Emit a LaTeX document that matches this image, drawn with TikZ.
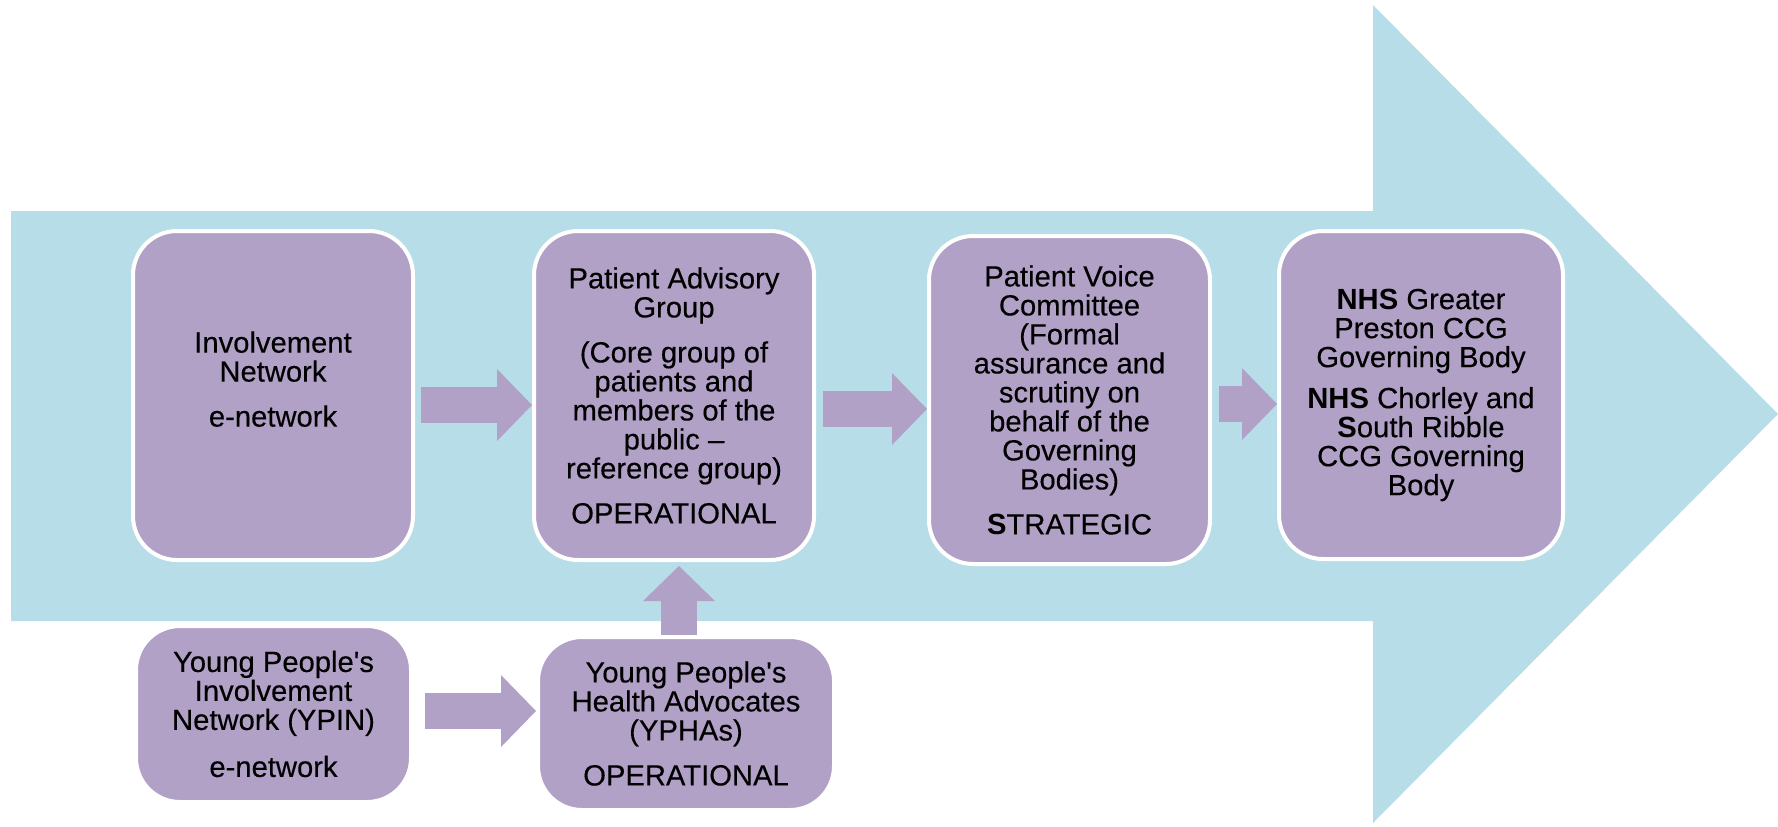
\documentclass[tikz,border=0pt]{standalone}
\usepackage{fontspec}
\setmainfont{Liberation Sans}[UprightFeatures={FakeBold=0.3}]
\usetikzlibrary{arrows.meta}
\definecolor{sky}{HTML}{B7DDE8}
\definecolor{lilac}{HTML}{B2A1C7}
\begin{document}
\begin{tikzpicture}[x=0.5pt,y=-0.5pt,
    box/.style={fill=lilac,draw=white,line width=2pt,rounded corners=22pt,
      align=center,inner sep=0pt,font=\fontsize{14.6pt}{14.5pt}\selectfont},
    flow/.style={draw=lilac,line width=18pt,
      -{Triangle[length=17.5pt,width=36pt,line width=0pt]}}]
    \useasboundingbox (0,0) rectangle (1778,826);
    \fill[sky] (11,211) -- (1373,211) -- (1373,5) -- (1778,414)
      -- (1373,823) -- (1373,621) -- (11,621) -- cycle;
    \node[box,minimum width=140pt,minimum height=164.5pt] (inv) at (273,395.5)
      {Involvement\\Network\\[8pt]e-network\\[2pt]\mbox{}};
    \node[box,minimum width=140pt,minimum height=164.5pt] (pag) at (674,395.5)
      {Patient Advisory\\Group\\[8pt](Core group of\\patients and\\members of the\\public –\\reference group)\\[8pt]OPERATIONAL};
    \node[box,minimum width=140.5pt,minimum height=164pt] (pvc) at (1069.5,400)
      {Patient Voice\\Committee\\(Formal\\assurance and\\scrutiny on\\behalf of the\\Governing\\Bodies)\\[8pt]\textbf{S}TRATEGIC};
    \node[box,minimum width=142pt,minimum height=164pt] (nhs) at (1421,395)
      {\textbf{NHS} Greater\\Preston CCG\\Governing Body\\[6pt]\textbf{NHS} Chorley and\\\textbf{S}outh Ribble\\CCG Governing\\Body};
    \node[box,minimum width=137.5pt,minimum height=88pt] (ypin) at (273.5,714)
      {Young People\textquotesingle s\\Involvement\\Network (YPIN)\\[9pt]e-network};
    \node[box,minimum width=148pt,minimum height=86.5pt] (ypha) at (686,723.5)
      {Young People\textquotesingle s\\Health Advocates\\(YPHAs)\\[8pt]OPERATIONAL};
    \draw[flow] ([xshift=3pt,yshift=-4.75pt]inv.east) -- ([yshift=-4.75pt]inv.east -| pag.west);
    \draw[flow] ([xshift=3.5pt,yshift=-6.75pt]pag.east) -- ([yshift=-6.75pt]pag.east -| pvc.west);
    \draw[flow] ([xshift=3.5pt,yshift=-2pt]pvc.east) -- ([yshift=-2pt]pvc.east -| nhs.west);
    \draw[flow] ([xshift=6pt,yshift=1.5pt]ypin.east) -- ([yshift=1.5pt]ypin.east -| ypha.west);
    \draw[flow] ([xshift=-3.5pt]ypha.north) -- ([xshift=-3.5pt,yshift=-2pt]ypha.north |- pag.south);
\end{tikzpicture}
\end{document}
